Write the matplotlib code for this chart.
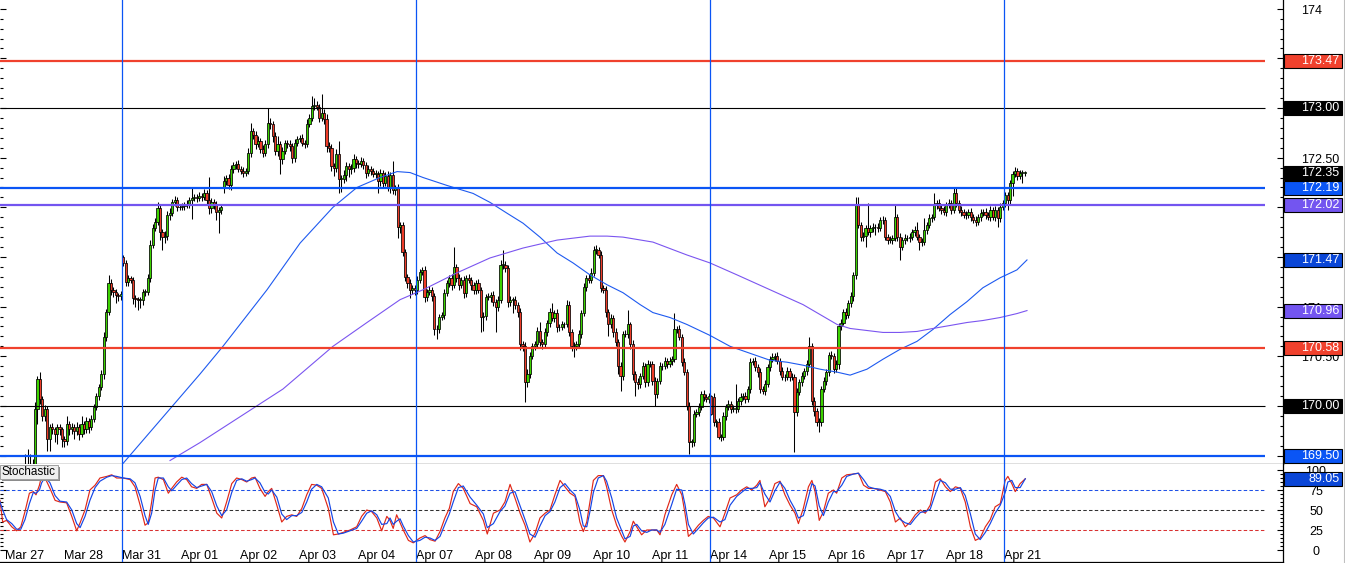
import matplotlib
matplotlib.use("Agg")
import matplotlib.pyplot as plt
import numpy as np
from matplotlib.patches import Rectangle
from matplotlib.lines import Line2D
from matplotlib.ticker import MultipleLocator, FixedLocator
from matplotlib.transforms import blended_transform_factory

plt.rcParams['font.family'] = ['Liberation Sans', 'DejaVu Sans']

# ---------------- data ----------------
day_labels = ['Mar 27', 'Mar 28', 'Mar 31', 'Apr 01', 'Apr 02', 'Apr 03', 'Apr 04',
              'Apr 07', 'Apr 08', 'Apr 09', 'Apr 10', 'Apr 11', 'Apr 14', 'Apr 15',
              'Apr 16', 'Apr 17', 'Apr 18', 'Apr 21']
week_starts = ['Mar 31', 'Apr 07', 'Apr 14', 'Apr 21']
BARS_PER_DAY = 24          # hourly candles
first_bar = 8              # first visible candle (hour index from Mar 27 00:00)

closes = [
    169.32, 169.35, 169.33, 169.37, 169.97, 170.27, 170.07, 169.90, 169.97, 169.67, 169.79, 169.77, 169.72, 169.79, 169.77, 169.67,
    169.65, 169.82, 169.77, 169.79, 169.75, 169.79, 169.72, 169.82, 169.77, 169.85, 169.79, 169.87, 169.99, 170.10, 170.19, 170.32, 170.69, 170.95, 171.24, 171.17, 171.15, 171.12, 171.11, 171.13,
    171.44, 171.25, 171.29, 171.27, 171.09, 171.08, 171.07, 171.07, 171.15, 171.15, 171.29, 171.62, 171.79, 171.85, 171.99, 171.75, 171.70, 171.71, 171.92, 171.94, 172.05, 172.07, 172.00, 172.00,
    172.01, 172.02, 172.03, 172.07, 172.09, 172.10, 172.09, 172.11, 172.10, 172.14, 172.07, 171.99, 172.05, 172.02, 171.95, 171.97, 172.00, 172.27, 172.30, 172.22, 172.39, 172.43, 172.44, 172.39,
    172.37, 172.35, 172.37, 172.55, 172.77, 172.73, 172.64, 172.67, 172.59, 172.55, 172.64, 172.85, 172.84, 172.72, 172.57, 172.64, 172.49, 172.57, 172.65, 172.64, 172.62, 172.50, 172.65, 172.69,
    172.70, 172.65, 172.64, 172.84, 172.90, 173.02, 173.03, 173.01, 172.90, 172.95, 172.89, 172.62, 172.60, 172.42, 172.40, 172.54, 172.29, 172.29, 172.33, 172.42, 172.39, 172.40, 172.49, 172.45,
    172.44, 172.47, 172.43, 172.35, 172.39, 172.37, 172.34, 172.34, 172.27, 172.35, 172.25, 172.32, 172.19, 172.33, 172.17, 172.19, 171.80, 171.82, 171.55, 171.30, 171.24, 171.17, 171.19, 171.17,
    171.27, 171.35, 171.37, 171.10, 171.15, 171.17, 171.11, 170.77, 170.77, 170.90, 170.92, 171.14, 171.24, 171.29, 171.22, 171.40, 171.29, 171.22, 171.27, 171.14, 171.29, 171.27, 171.22, 171.17,
    171.24, 171.17, 170.90, 170.91, 171.10, 171.10, 171.12, 171.05, 171.00, 171.07, 171.42, 171.42, 171.39, 171.05, 171.07, 171.07, 171.02, 170.95, 170.62, 170.60, 170.24, 170.32, 170.50, 170.60,
    170.62, 170.75, 170.64, 170.62, 170.74, 170.84, 170.95, 170.89, 170.94, 170.79, 170.79, 170.82, 170.82, 171.02, 170.74, 170.60, 170.60, 170.62, 170.72, 170.94, 171.20, 171.29, 171.27, 171.34,
    171.57, 171.57, 171.52, 171.19, 171.17, 170.95, 170.82, 170.89, 170.74, 170.64, 170.40, 170.30, 170.72, 170.72, 170.82, 170.62, 170.32, 170.24, 170.22, 170.30, 170.40, 170.24, 170.42, 170.42,
    170.25, 170.12, 170.25, 170.40, 170.40, 170.45, 170.42, 170.45, 170.47, 170.77, 170.77, 170.69, 170.44, 170.34, 170.00, 169.64, 169.64, 169.92, 169.94, 169.99, 170.12, 170.09, 170.07, 170.10,
    169.92, 169.84, 169.84, 169.69, 169.69, 169.90, 169.99, 170.02, 169.97, 169.97, 169.97, 170.05, 170.09, 170.10, 170.07, 170.17, 170.44, 170.45, 170.39, 170.34, 170.17, 170.15, 170.22, 170.39,
    170.47, 170.49, 170.50, 170.45, 170.35, 170.29, 170.29, 170.35, 170.29, 170.29, 169.94, 170.14, 170.24, 170.30, 170.35, 170.42, 170.60, 170.05, 169.95, 169.84, 169.84, 170.17, 170.25, 170.34,
    170.51, 170.50, 170.37, 170.42, 170.80, 170.84, 170.95, 170.92, 171.04, 171.11, 171.32, 172.02, 171.82, 171.70, 171.71, 171.79, 171.75, 171.79, 171.80, 171.80, 171.79, 171.87, 171.87, 171.70,
    171.67, 171.67, 171.69, 171.90, 171.70, 171.60, 171.67, 171.69, 171.69, 171.70, 171.75, 171.77, 171.70, 171.65, 171.65, 171.77, 171.82, 171.89, 171.90, 172.02, 172.04, 171.99, 171.97, 171.95,
    172.02, 172.04, 171.97, 172.14, 172.04, 171.97, 171.95, 171.92, 171.92, 171.95, 171.90, 171.87, 171.85, 171.90, 171.94, 171.95, 171.92, 171.90, 171.97, 171.90, 171.97, 171.89, 172.00, 172.04,
    172.12, 172.07, 172.25, 172.34, 172.37, 172.32, 172.35, 172.35, 172.35,
]
# opens follow the previous close except where the market gapped
gap_opens = {48: 171.50, 89: 172.20, 289: 170.09}
# upper / lower shadow lengths, in hundredths (pips)
wick_up = [
    20, 22, 17, 10, 7, 3, 7, 3, 4, 3, 3, 4, 2, 3, 3, 2,
    3, 8, 3, 4, 3, 5, 3, 8, 3, 4, 3, 4, 3, 3, 3, 4, 5, 3, 8, 4, 3, 3, 2, 3,
    2, 3, 3, 2, 3, 3, 2, 3, 3, 3, 4, 5, 4, 4, 6, 3, 3, 5, 4, 5, 3, 4, 3, 3,
    3, 3, 4, 3, 10, 3, 3, 4, 3, 4, 3, 24, 4, 3, 4, 3, 3, 5, 3, 4, 4, 3, 3, 4,
    3, 4, 3, 5, 8, 3, 4, 5, 3, 4, 4, 15, 5, 3, 4, 8, 3, 4, 3, 3, 4, 3, 4, 3,
    3, 4, 3, 5, 4, 10, 7, 4, 3, 19, 4, 5, 4, 4, 3, 5, 13, 4, 5, 4, 3, 4, 5, 3,
    3, 4, 3, 3, 4, 3, 3, 4, 3, 4, 3, 4, 5, 3, 14, 3, 4, 3, 3, 3, 3, 4, 3, 3,
    4, 3, 3, 4, 3, 4, 3, 3, 4, 3, 3, 4, 3, 3, 4, 20, 3, 4, 3, 4, 3, 4, 3, 3,
    3, 4, 3, 4, 3, 4, 3, 4, 3, 4, 5, 15, 4, 3, 4, 3, 4, 3, 4, 3, 4, 5, 4, 3,
    3, 4, 10, 3, 4, 3, 4, 9, 3, 4, 3, 4, 3, 5, 4, 3, 4, 3, 4, 3, 4, 3, 4, 5,
    4, 5, 3, 4, 3, 4, 3, 4, 3, 4, 3, 4, 3, 4, 15, 3, 4, 3, 4, 3, 4, 3, 4, 3,
    3, 4, 3, 4, 3, 4, 3, 4, 3, 17, 3, 4, 3, 4, 3, 4, 3, 4, 3, 4, 3, 4, 3, 3,
    1, 4, 3, 4, 3, 4, 3, 4, 3, 4, 25, 3, 4, 3, 4, 3, 4, 3, 4, 3, 4, 3, 4, 3,
    3, 4, 3, 4, 3, 4, 3, 4, 3, 4, 3, 4, 3, 4, 3, 4, 9, 3, 4, 3, 4, 3, 4, 3,
    3, 4, 3, 4, 3, 4, 3, 4, 3, 4, 3, 8, 8, 3, 4, 3, 25, 3, 4, 3, 4, 3, 4, 3,
    3, 4, 3, 12, 3, 4, 3, 4, 3, 4, 3, 4, 8, 3, 4, 12, 3, 4, 3, 12, 3, 4, 3, 4,
    3, 4, 3, 5, 5, 3, 4, 3, 4, 3, 4, 3, 4, 3, 4, 3, 4, 3, 4, 3, 4, 3, 4, 3,
    3, 3, 3, 3, 4, 3, 3, 3, 2,
]
wick_dn = [
    10, 8, 8, 6, 4, 15, 5, 5, 5, 12, 12, 5, 8, 10, 6, 8,
    6, 4, 6, 5, 8, 4, 6, 3, 5, 4, 6, 3, 3, 3, 4, 3, 5, 4, 3, 5, 5, 8, 5, 4,
    3, 4, 4, 3, 6, 8, 10, 8, 5, 4, 3, 4, 3, 3, 3, 8, 13, 6, 4, 5, 3, 4, 4, 3,
    3, 4, 3, 4, 19, 3, 4, 3, 4, 3, 4, 6, 5, 4, 8, 21, 4, 6, 5, 4, 5, 4, 4, 3,
    3, 4, 3, 3, 4, 4, 5, 3, 4, 4, 3, 4, 5, 6, 4, 5, 15, 5, 3, 4, 5, 5, 4, 3,
    3, 3, 4, 3, 3, 3, 4, 3, 4, 3, 5, 6, 4, 5, 8, 4, 15, 14, 5, 6, 8, 5, 4, 5,
    4, 3, 4, 5, 3, 4, 3, 4, 13, 6, 5, 4, 3, 5, 4, 5, 11, 6, 4, 4, 5, 8, 4, 5,
    4, 3, 3, 5, 4, 3, 5, 6, 10, 4, 3, 4, 3, 4, 5, 3, 4, 5, 3, 5, 4, 3, 5, 4,
    4, 3, 16, 15, 4, 3, 5, 4, 26, 4, 3, 4, 4, 5, 4, 13, 4, 5, 6, 5, 20, 5, 4, 3,
    4, 3, 4, 5, 3, 4, 5, 3, 4, 5, 4, 3, 4, 3, 4, 5, 11, 4, 3, 4, 3, 4, 3, 3,
    3, 4, 3, 4, 3, 5, 12, 4, 5, 4, 8, 15, 4, 3, 4, 5, 6, 14, 5, 4, 3, 5, 4, 3,
    4, 12, 4, 3, 4, 3, 4, 3, 4, 3, 4, 3, 4, 3, 4, 12, 5, 4, 3, 4, 3, 4, 3, 4,
    1, 4, 5, 2, 4, 3, 4, 3, 4, 3, 4, 3, 4, 3, 4, 3, 4, 3, 4, 5, 4, 3, 4, 3,
    4, 3, 4, 3, 4, 3, 4, 3, 4, 3, 40, 4, 3, 4, 3, 4, 3, 4, 5, 4, 10, 4, 3, 4,
    4, 3, 4, 3, 5, 4, 3, 4, 3, 4, 5, 4, 3, 4, 4, 11, 3, 5, 4, 8, 4, 3, 4, 3,
    4, 3, 4, 3, 4, 13, 3, 4, 3, 4, 3, 4, 3, 8, 4, 3, 4, 3, 4, 3, 4, 3, 4, 3,
    4, 3, 4, 3, 4, 3, 4, 3, 4, 3, 4, 3, 4, 3, 4, 3, 4, 3, 4, 3, 4, 9, 4, 3,
    4, 10, 5, 14, 3, 4, 3, 11, 3,
]

# moving averages (sampled along the curves), positions in hourly bars
ma_fast_pos = [47.9, 79.3, 88.7, 106.7, 120.2, 133.6, 143.4, 152.8, 159.8, 165.1, 170.4, 180.2, 190.8,
               197.7, 204.7, 211.2, 218.1, 225.1, 231.6, 238.5, 245.5, 252.0, 259.0, 264.2, 271.2, 278.1,
               287.5, 295.7, 305.0, 312.0, 319.0, 325.5, 332.4, 339.4, 344.7, 351.6, 358.1, 365.1, 372.0,
               378.5, 385.5, 392.4, 398.9, 405.9, 412.8, 416.9]
ma_fast = [169.42, 170.32, 170.60, 171.17, 171.64, 172.00, 172.20, 172.30, 172.36, 172.35, 172.30, 172.22, 172.14,
           172.05, 171.94, 171.84, 171.70, 171.54, 171.44, 171.32, 171.22, 171.14, 171.02, 170.94, 170.89, 170.82,
           170.71, 170.60, 170.52, 170.46, 170.44, 170.41, 170.37, 170.34, 170.31, 170.37, 170.47, 170.57, 170.65,
           170.77, 170.92, 171.05, 171.19, 171.29, 171.37, 171.47]
ma_slow_pos = [67.1, 79.3, 113.2, 133.6, 147.5, 161.0, 170.4, 184.2, 197.7, 211.2, 225.1, 238.5, 245.5, 252.0,
               264.2, 278.1, 287.5, 298.5, 312.0, 325.5, 339.4, 344.7, 358.1, 365.1, 372.0, 378.5, 385.5,
               392.4, 398.9, 405.9, 412.8, 416.9]
ma_slow = [169.45, 169.63, 170.17, 170.60, 170.84, 171.07, 171.17, 171.34, 171.49, 171.59, 171.67, 171.71, 171.71,
           171.70, 171.65, 171.52, 171.44, 171.32, 171.17, 171.02, 170.82, 170.78, 170.74, 170.74, 170.75, 170.78,
           170.81, 170.84, 170.86, 170.89, 170.93, 170.96]

# stochastic oscillator (%K red, %D blue), sampled
stoch_pos = [-2.3, -1.2, 0.4, 2.5, 4.5, 6.2, 7.9, 9.7, 11.3, 12.4, 13.8, 14.7, 16.1, 18.1, 20.2, 22.2, 24.9, 27.0,
             29.0, 30.4, 32.4, 34.4, 36.5, 38.5, 41.3, 43.3, 45.3, 48.0, 50.8, 52.8, 54.9, 56.9, 58.2, 59.6, 61.0,
             62.3, 64.4, 66.4, 67.8, 69.8, 71.9, 73.9, 75.9, 78.0, 80.0, 82.1, 84.1, 86.2, 88.2, 90.2, 92.3, 94.3,
             96.4, 98.4, 100.4, 101.8, 103.8, 105.9, 107.2, 108.6, 110.7, 112.7, 114.7, 116.8, 118.8, 120.9, 122.9,
             124.9, 127.0, 129.0, 131.7, 133.8, 135.8, 137.8, 140.6, 143.3, 145.3, 147.4, 149.4, 151.5, 153.5,
             155.6, 156.9, 158.2, 159.6, 161.0, 162.3, 164.4, 166.4, 169.1, 171.2, 173.2, 175.3, 177.3, 179.3,
             181.1, 182.7, 184.8, 186.8, 189.6, 192.3, 195.0, 196.6, 199.1, 201.8, 203.8, 205.9, 207.9, 210.0,
             212.0, 214.0, 216.1, 218.1, 220.2, 222.2, 224.2, 226.3, 228.3, 230.4, 232.4, 234.4, 235.8, 237.2,
             238.5, 239.9, 241.9, 244.0, 245.3, 247.4, 249.4, 251.5, 252.8, 254.9, 256.2, 257.6, 259.6, 261.7,
             263.7, 265.8, 267.1, 269.1, 271.9, 273.9, 276.0, 277.3, 278.7, 280.7, 282.8, 284.8, 286.8, 288.9,
             291.6, 293.6, 295.7, 298.4, 300.4, 302.5, 304.5, 306.6, 307.9, 309.9, 312.0, 314.0, 316.1, 318.1,
             320.2, 322.2, 323.6, 325.6, 327.7, 329.1, 330.4, 332.1, 333.8, 335.8, 337.9, 339.2, 341.3, 343.3,
             346.1, 348.1, 350.2, 352.2, 354.3, 357.0, 359.1, 361.1, 363.2, 365.2, 367.2, 369.3, 371.3, 373.4,
             375.4, 377.4, 379.5, 381.5, 383.6, 385.6, 387.7, 389.7, 391.7, 393.8, 395.8, 397.8, 399.9, 401.9,
             403.9, 406.0, 408.0, 409.1, 410.7, 412.1, 414.1, 416.2]
stoch_k = [62, 35, 37, 29, 24, 29, 48, 71, 73, 69, 81, 93, 90, 77, 62, 60, 59, 42, 24, 34, 50, 75, 81, 90, 92, 94,
           90, 90, 88, 79, 56, 31, 34, 60, 90, 91, 88, 71, 77, 85, 91, 88, 79, 77, 82, 82, 65, 46, 40, 60, 83, 90,
           88, 85, 90, 91, 77, 67, 73, 77, 56, 35, 42, 44, 42, 52, 69, 82, 81, 77, 52, 19, 20, 22, 25, 29, 42, 50,
           48, 40, 24, 42, 37, 27, 44, 34, 25, 12, 9, 15, 18, 13, 11, 23, 40, 52,
           73, 83, 77, 58, 54, 37, 20, 46, 50, 60, 82, 65, 46, 31, 10, 21, 40, 46, 50, 69, 87, 79, 71, 67, 35, 23,
           35, 60, 87, 93, 93, 79, 50, 31, 17, 10, 23, 36, 29, 19, 25, 25, 25, 19, 44, 69, 82, 69, 46, 17, 23, 31,
           37, 42, 40, 29, 46, 65, 69, 75, 79, 75, 81, 87, 54, 65, 83, 86, 69, 56, 46, 33, 52, 79, 87, 73, 37, 48,
           71, 75, 71, 90, 94, 95, 96, 81, 77, 77, 75, 73, 60, 35, 40,
           29, 35, 44, 50, 46, 56, 85, 89, 79, 73, 79, 77, 60, 29, 12, 15, 29, 38, 54, 58, 87, 92, 83, 73, 83, 89]
stoch_d = [60, 50, 38, 33, 26, 26, 38, 58, 72, 71, 75, 84, 91, 84, 68, 61, 60, 50, 33, 28, 42, 62, 78, 86, 91, 93,
           92, 90, 89, 84, 67, 43, 32, 46, 75, 90, 90, 79, 74, 81, 88, 90, 83, 78, 80, 82, 73, 55, 43, 50, 72, 87,
           89, 86, 88, 90, 84, 72, 70, 75, 66, 45, 38, 43, 43, 47, 60, 76, 82, 79, 65, 35, 20, 21, 24, 27, 36, 46,
           49, 44, 32, 33, 40, 32, 36, 39, 30, 18, 10, 12, 16, 15, 12, 17, 32, 45,
           60, 78, 80, 66, 56, 45, 28, 33, 48, 55, 71, 73, 55, 38, 20, 16, 30, 43, 48, 60, 78, 83, 75, 69, 50, 30,
           29, 48, 72, 90, 93, 86, 65, 40, 24, 14, 17, 30, 32, 24, 22, 25, 25, 22, 32, 57, 76, 75, 57, 32, 20, 27,
           34, 40, 41, 35, 38, 56, 67, 72, 77, 77, 78, 84, 70, 60, 74, 85, 77, 62, 51, 40, 43, 66, 83, 80, 55, 43,
           60, 73, 73, 81, 92, 95, 96, 88, 79, 77, 76, 74, 67, 48, 38,
           34, 32, 40, 47, 48, 51, 70, 87, 84, 76, 76, 78, 68, 45, 20, 13, 22, 33, 46, 56, 72, 85, 87, 78, 78, 89.05]

# horizontal support / resistance levels
level_values = [173.47, 173.00, 172.19, 172.02, 170.58, 170.00, 169.50]
level_kinds = ['red', 'black', 'blue', 'purple', 'red', 'black', 'blue']
last_price = 172.35
stoch_last = 89.05
# price-scale labels not hidden behind a value box
price_ticks_shown = [174.0, 172.5, 171.0, 170.5]
stoch_ticks = [0, 25, 50, 75, 100]

# ---------------- styling ----------------
RED = '#F0412D'
BLUE = '#0A55F5'
DBLUE = '#0A46D7'
PURPLE = '#7355F0'
GREEN = '#3CD200'
CRED = '#EE3C28'
kind_color = {'red': RED, 'black': 'black', 'blue': BLUE, 'purple': PURPLE}
kind_lw = {'red': 1.6, 'black': 0.8, 'blue': 1.6, 'purple': 1.6}

W, H = 1345, 563
AX_R = 1283
fig = plt.figure(figsize=(W / 100, H / 100), dpi=100)
fig.patch.set_facecolor('white')
ax = fig.add_axes([0, 1 - 463.5 / H, AX_R / W, 463.5 / H])
ax2 = fig.add_axes([0, 1 / H, AX_R / W, 98 / H])

XL = (-2.3, 521.4)
LINE_END = 514.0
px_per_unit = 99.3
ax.set_xlim(*XL)
ax.set_ylim(169.420, 174.088)
ax2.set_xlim(*XL)
ax2.set_ylim(-15, 107.5)

for a in (ax, ax2):
    a.set_facecolor('white')
    a.spines['left'].set_visible(False)
    a.spines['top'].set_visible(False)
    a.spines['right'].set_linewidth(0.9)
    a.spines['bottom'].set_linewidth(0.9)
    a.tick_params(axis='x', which='both', bottom=False, top=False, labelbottom=False)

# ---------------- candles ----------------
n = min(len(closes), len(wick_up), len(wick_dn))
idx = np.arange(first_bar, first_bar + n)
c = np.array(closes[:n], dtype=float)
o = np.empty(n)
o[0] = c[0]
o[1:] = c[:-1]
for k, v in gap_opens.items():
    if 0 <= k - first_bar < n:
        o[k - first_bar] = v
top = np.maximum(o, c)
bot = np.minimum(o, c)
hi = top + np.array(wick_up[:n]) / 100.0
lo = bot - np.array(wick_dn[:n]) / 100.0
ax.vlines(idx, lo, hi, color='black', lw=0.75, zorder=3)
cols = np.where(c >= o, GREEN, CRED)
ax.bar(idx, np.maximum(top - bot, 0.006), bottom=bot, width=0.9, color=cols,
       edgecolor='black', linewidth=0.55, zorder=4)

# moving averages
ax.plot(ma_fast_pos, ma_fast, color='#1E5AF0', lw=0.8, zorder=5)
ax.plot(ma_slow_pos, ma_slow, color='#7B55F0', lw=0.8, zorder=5)

# levels
for v, k in zip(level_values, level_kinds):
    ax.hlines(v, XL[0], LINE_END, color=kind_color[k], lw=kind_lw[k], zorder=6)

# week separators
for w in week_starts:
    xv = day_labels.index(w) * BARS_PER_DAY - 0.5
    for a in (ax, ax2):
        a.axvline(xv, color=BLUE, lw=0.9, zorder=7)

# ---------------- price axis ----------------
ax.yaxis.set_major_locator(MultipleLocator(0.5))
ax.yaxis.set_minor_locator(MultipleLocator(0.1))
ax.tick_params(axis='y', which='both', direction='in', left=True, right=True,
               labelleft=False, labelright=False, color='black', width=0.8)
ax.tick_params(axis='y', which='major', length=4.3)
ax.tick_params(axis='y', which='minor', length=2.4)

bt = blended_transform_factory(ax.transAxes, ax.transData)
for v in price_ticks_shown:
    txt = f'{v:.0f}' if abs(v - round(v)) < 1e-9 else f'{v:.2f}'
    ax.text(1301 / AX_R, v - 0.02, txt, transform=bt, ha='left', va='center', fontsize=9,
            color='black', clip_on=False, zorder=8)


def value_box(a, trans, val, color, text, ppu):
    h = 14.0 / ppu
    a.add_patch(Rectangle((1283.5 / AX_R, val - h / 2), 58 / AX_R, h, transform=trans,
                          facecolor=color, edgecolor='black', lw=0.8, clip_on=False, zorder=9))
    a.text(1339.5 / AX_R, val, text, transform=trans, ha='right', va='center', fontsize=9,
           color='white', clip_on=False, zorder=10)


for v, k in zip(level_values, level_kinds):
    value_box(ax, bt, v, kind_color[k], f'{v:.2f}', px_per_unit)
value_box(ax, bt, last_price, 'black', f'{last_price:.2f}', px_per_unit)
value_box(ax, bt, ma_fast[-1], DBLUE, f'{ma_fast[-1]:.2f}', px_per_unit)
value_box(ax, bt, ma_slow[-1], PURPLE, f'{ma_slow[-1]:.2f}', px_per_unit)

# ---------------- stochastic ----------------
ax2.hlines(75, XL[0], LINE_END, color='#1E50E6', lw=0.75, linestyles=(0, (3.3, 2.2)), zorder=2)
ax2.hlines(50, XL[0], LINE_END, color='#303030', lw=0.75, linestyles=(0, (3.3, 2.2)), zorder=2)
ax2.hlines(25, XL[0], LINE_END, color='#D83030', lw=0.75, linestyles=(0, (3.3, 2.2)), zorder=2)
ax2.plot(stoch_pos[:len(stoch_k)], stoch_k, color='#E02818', lw=0.85, zorder=4)
ax2.plot(stoch_pos[:len(stoch_d)], stoch_d, color='#1446E6', lw=0.85, zorder=5)

ax2.yaxis.set_major_locator(FixedLocator(stoch_ticks))
ax2.yaxis.set_minor_locator(FixedLocator(list(range(0, 101, 5))))
ax2.tick_params(axis='y', which='both', direction='in', left=True, right=True,
                labelleft=False, labelright=False, color='black', width=0.8)
ax2.tick_params(axis='y', which='major', length=4.3)
ax2.tick_params(axis='y', which='minor', length=2.4)
bt2 = blended_transform_factory(ax2.transAxes, ax2.transData)
for v in stoch_ticks:
    ax2.text(1316 / AX_R, v - 2, str(v), transform=bt2, ha='center', va='center', fontsize=9,
             color='black', clip_on=False, zorder=8)
value_box(ax2, bt2, stoch_last, DBLUE, f'{stoch_last:.2f}', 0.8)

# date labels
for k, lab in enumerate(day_labels):
    ax2.text(k * BARS_PER_DAY - 0.5 + 0.2, -8.0, lab, ha='left', va='center', fontsize=9,
             color='black', zorder=6, clip_on=False)

# "Stochastic" caption box
fig.add_artist(Rectangle((2 / W, 1 - 481 / H), 58 / W, 14 / H, transform=fig.transFigure,
                         facecolor='#8C8C8C', edgecolor='none', zorder=20))
fig.add_artist(Rectangle((0, 1 - 479 / H), 58 / W, 14 / H, transform=fig.transFigure,
                         facecolor='#EEEEEE', edgecolor='#A0A0A0', lw=0.7, zorder=21))
fig.text(1.5 / W, 1 - 472 / H, 'Stochastic', ha='left', va='center', fontsize=8.4, color='black', zorder=22)

# right border of the window
fig.add_artist(Line2D([1343.5 / W] * 2, [0, 1], transform=fig.transFigure, color='#C0C0C0', lw=0.8))

fig.savefig('out.png', dpi=100, facecolor='white')
